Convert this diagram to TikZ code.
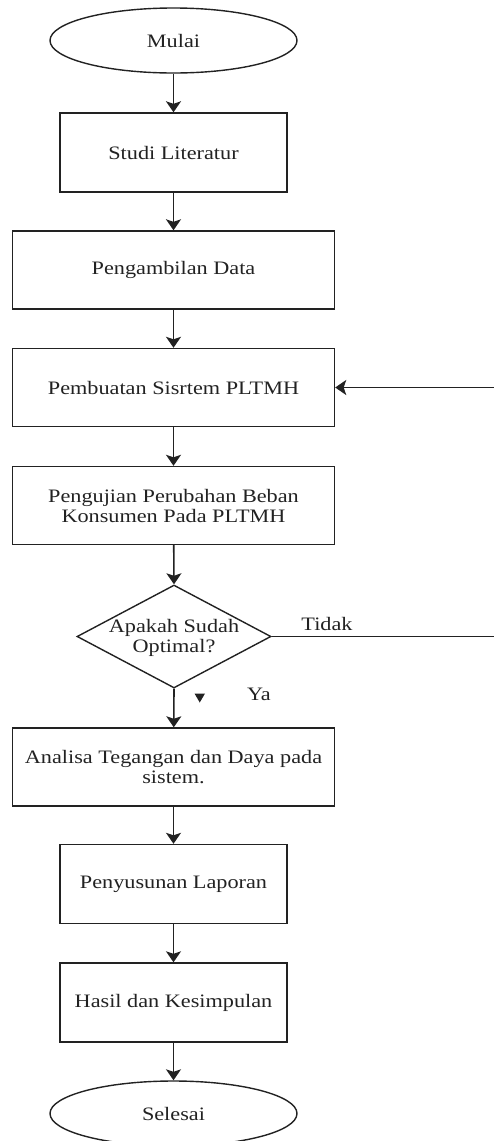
\documentclass[tikz,border=0pt]{standalone}
\usepackage{fontspec}
\setmainfont{Liberation Serif}[FakeStretch=1.17]
\usetikzlibrary{shapes.geometric,arrows.meta}
\definecolor{lc}{HTML}{222222}
\definecolor{tc}{HTML}{222222}
\begin{document}
\begin{tikzpicture}[x=1pt,y=-1pt,
  conn/.style={draw=lc,line width=1.6pt},
  arr/.style={conn,-{Stealth[length=11pt,width=15pt,inset=2.5pt]}},
  txt/.style={text=tc,font=\fontsize{19}{20}\selectfont,align=center,inner sep=0pt},
  box/.style={txt,draw=lc,line width=1.4pt,rectangle},
  wide/.style={box,minimum width=322pt,minimum height=78pt},
  narrow/.style={box,minimum width=227pt,minimum height=79pt},
  oval/.style={box,ellipse,minimum width=247pt,minimum height=65pt},
  dia/.style={draw=lc,line width=1.4pt,diamond,inner sep=0pt,minimum width=194pt,minimum height=103pt}
]
\useasboundingbox (0,0) rectangle (494,1141);
\clip (0,0) rectangle (494,1141);

\node[oval]   (mulai) at (173.5,40.5)  {Mulai};
\node[narrow] (studi) at (173.5,152.5) {Studi Literatur};
\node[wide]   (ambil) at (173.5,270)   {Pengambilan Data};
\node[wide]   (buat)  at (173.5,387.5) {Pembuatan Sisrtem PLTMH};
\node[wide]   (uji)   at (173.5,505.5) {Pengujian Perubahan Beban\\Konsumen Pada PLTMH};
\node[dia]    (cek)   at (174,636.5)   {};
\node[txt]    (cektx) at (174,638)     {Apakah Sudah\\Optimal?};
\node[wide]   (anal)  at (173.5,767)   {Analisa Tegangan dan Daya pada\\sistem.};
\node[narrow] (susun) at (173.5,884)   {Penyusunan Laporan};
\node[narrow] (hasil) at (173.5,1002.5){Hasil dan Kesimpulan};
\node[oval]   (selesai) at (173.5,1113.5) {Selesai};

\node[txt] (tidak) at (327,624) {Tidak};
\node[txt] (ya)    at (259,694) {Ya};
\fill[lc] (194.5,693.5) -- (205,693.5) -- (199.75,702.5) -- cycle;

\coordinate (loop) at (520,636.5);

\draw[arr] (mulai) -- (studi);
\draw[arr] (studi) -- (ambil);
\draw[arr] (ambil) -- (buat);
\draw[arr] (buat) -- (uji);
\draw[arr] (uji) -- (cek.north);
\draw[arr] (cek.south) -- (anal);
\draw[arr] (anal) -- (susun);
\draw[arr] (susun) -- (hasil);
\draw[arr] (hasil) -- (selesai);
\draw[arr] (cek.east) -- (loop) |- (buat.east);
\end{tikzpicture}
\end{document}
